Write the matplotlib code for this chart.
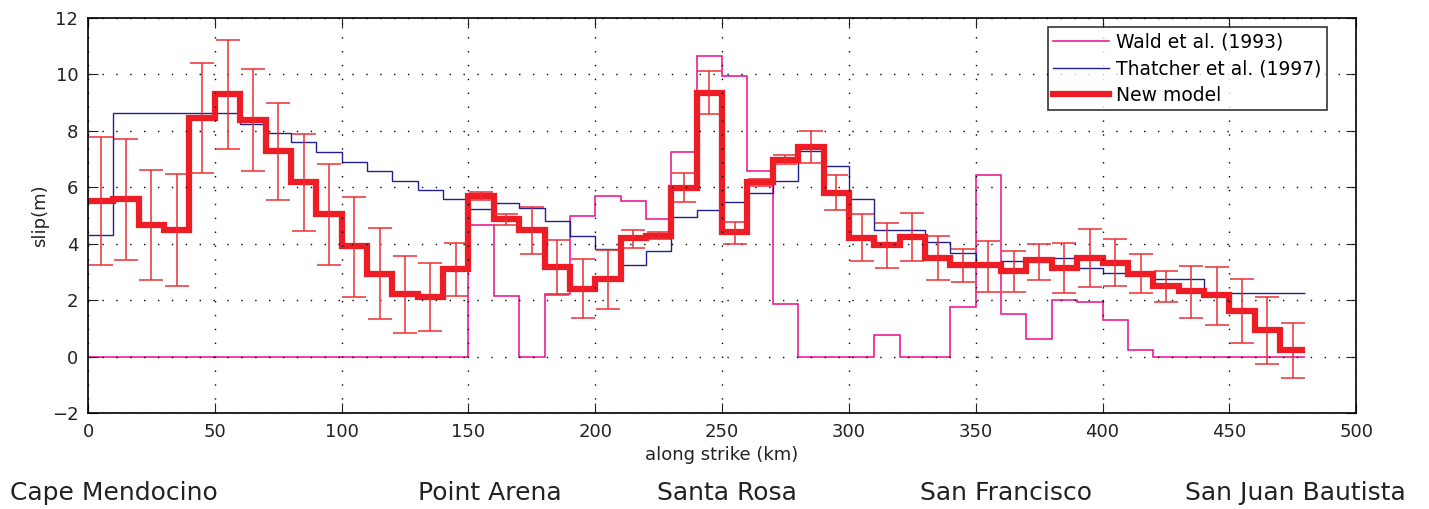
import numpy as np
import matplotlib.pyplot as plt

# segments along strike, 10 km each, 0-480 km
seg_km = 10
n_seg = 48

new_model = [5.53, 5.57, 4.68, 4.50, 8.46, 9.31, 8.40, 7.28, 6.19, 5.07,
             3.91, 2.94, 2.22, 2.12, 3.11, 5.68, 4.88, 4.50, 3.17, 2.41,
             2.75, 4.21, 4.27, 5.98, 9.35, 4.41, 6.18, 6.95, 7.42, 5.80,
             4.21, 3.95, 4.24, 3.50, 3.26, 3.23, 3.03, 3.42, 3.15, 3.50,
             3.32, 2.94, 2.49, 2.32, 2.20, 1.63, 0.93, 0.25]
err_hi = [7.78, 7.72, 6.62, 6.47, 10.40, 11.22, 10.18, 8.98, 7.88, 6.81,
          5.65, 4.54, 3.58, 3.31, 4.03, 5.85, 5.05, 5.31, 4.12, 3.46,
          3.77, 4.50, 4.41, 6.49, 10.12, 4.76, 6.30, 7.14, 7.98, 6.42,
          5.07, 4.72, 5.10, 4.29, 3.81, 4.09, 3.73, 4.00, 4.03, 4.53,
          4.15, 3.62, 3.02, 3.20, 3.18, 2.76, 2.12, 1.19]
err_lo = [3.26, 3.42, 2.72, 2.49, 6.51, 7.36, 6.56, 5.54, 4.46, 3.26,
          2.12, 1.34, 0.84, 0.89, 2.16, 5.54, 4.66, 3.65, 2.17, 1.36,
          1.70, 3.85, 4.15, 5.47, 8.59, 3.99, 6.04, 6.82, 6.87, 5.18,
          3.38, 3.15, 3.38, 2.71, 2.64, 2.29, 2.28, 2.73, 2.26, 2.47,
          2.49, 2.26, 1.93, 1.36, 1.11, 0.49, -0.26, -0.76]

thatcher = [4.30, 8.62, 8.62, 8.62, 8.62, 8.62, 8.26, 7.93, 7.59, 7.25,
            6.91, 6.57, 6.24, 5.90, 5.57, 5.24, 5.43, 5.27, 4.80, 4.29,
            3.82, 3.26, 3.73, 4.95, 5.21, 5.48, 5.80, 6.22, 7.30, 6.77,
            5.60, 4.48, 4.48, 4.07, 3.68, 3.26, 3.38, 3.50, 3.50, 3.15,
            2.97, 2.88, 2.76, 2.76, 2.26, 2.26, 2.26, 2.26]

wald = [0, 0, 0, 0, 0, 0, 0, 0, 0, 0,
        0, 0, 0, 0, 0, 4.68, 2.14, 0, 2.22, 4.98,
        5.68, 5.51, 4.89, 7.25, 10.65, 9.96, 6.57, 1.87, 0, 0,
        0, 0.78, 0, 0, 1.75, 6.45, 1.51, 0.63, 2.00, 1.93,
        1.31, 0.25, 0, 0, 0, 0, 0, 0]

places = ["Cape Mendocino", "Point Arena", "Santa Rosa", "San Francisco", "San Juan Bautista"]
place_x = [0.007, 0.2925, 0.46, 0.644, 0.829]

edges = np.arange(n_seg + 1) * seg_km
centers = edges[:-1] + seg_km / 2
nm = np.array(new_model)

plt.rcParams['font.family'] = ['DejaVu Sans']

fig = plt.figure(figsize=(14.29, 5.09), dpi=100)
ax = fig.add_axes([0.0616, 0.1886, 0.8874, 0.776])

ax.stairs(wald, edges, baseline=None, color='#ee0a8c', lw=1.1, label='Wald et al. (1993)')
ax.stairs(thatcher, edges, baseline=None, color='#1f1f8f', lw=1.0, label='Thatcher et al. (1997)')
ax.errorbar(centers, nm, yerr=[nm - np.array(err_lo), np.array(err_hi) - nm],
            fmt='none', ecolor='#ec2a30', elinewidth=1.2, capsize=8.5, capthick=1.2, alpha=0.9)
ax.stairs(nm, edges, baseline=None, color='#ee1c24', lw=4.5, label='New model')

ax.set_xlim(0, 500)
ax.set_ylim(-2, 12)
ax.set_xticks(np.arange(0, 501, 50))
ax.set_yticks(np.arange(-2, 13, 2))
ax.grid(True, color='black', linestyle=(0, (1, 9)), linewidth=1.0)
ax.tick_params(direction='in', length=7, labelsize=13, colors='#222222', top=True, right=True, pad=7)
for s in ax.spines.values():
    s.set_linewidth(1.2)
ax.set_xlabel('along strike (km)', fontsize=13, labelpad=4, color='#222222')
ax.set_ylabel('slip(m)', fontsize=13, labelpad=2, color='#222222')

leg = ax.legend(loc='upper right', fontsize=13.5, frameon=True, fancybox=False,
                edgecolor='black', handlelength=3.0, handletextpad=0.35,
                borderaxespad=0, borderpad=0.3, labelspacing=0.4,
                bbox_to_anchor=(0.977, 0.977))
leg.get_frame().set_linewidth(1.2)

for name, px in zip(places, place_x):
    fig.text(px, 0.018, name, fontsize=18, color='#222222', ha='left', va='baseline')

fig.savefig('out.png', dpi=100)
